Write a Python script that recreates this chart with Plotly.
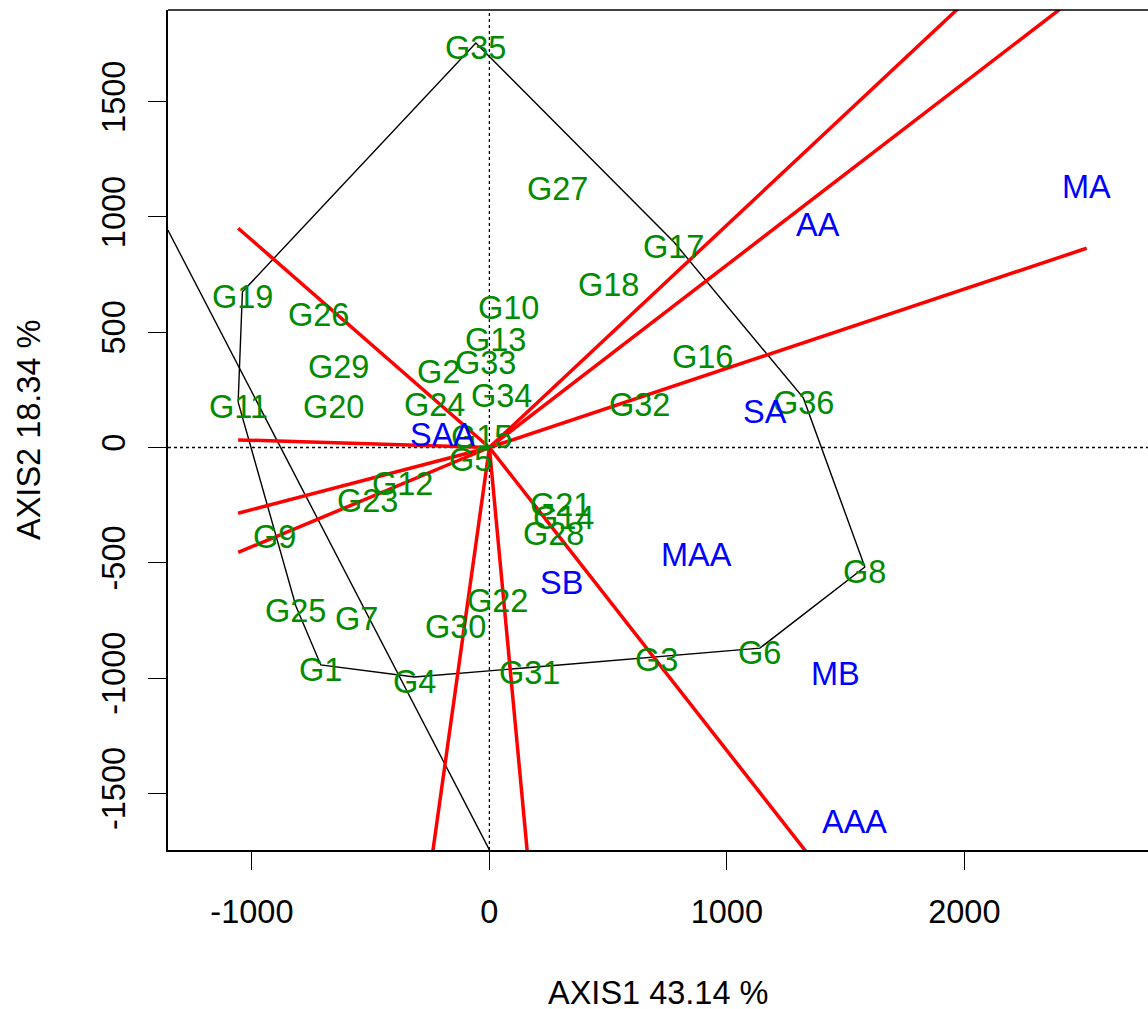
import plotly.graph_objects as go

# ---------------- data ----------------
genotypes = ["G1", "G2", "G3", "G4", "G5", "G6", "G7", "G8", "G9", "G10",
             "G11", "G12", "G13", "G14", "G15", "G16", "G17", "G18", "G19", "G20",
             "G21", "G22", "G23", "G24", "G25", "G26", "G27", "G28", "G29", "G30",
             "G31", "G32", "G33", "G34", "G35", "G36"]
gen_x = [-710, -213, 705, -315, -78, 1139, -558, 1581, -905, 82,
         -1058, -365, 27, 314, -32, 899, 777, 503, -1040, -655,
         301, 35, -512, -230, -815, -719, 288, 271, -634, -142,
         170, 634, -15, 52, -57, 1322]
gen_y = [-943, 349, -900, -995, -33, -870, -722, -518, -366, 627,
         197, -136, 488, -284, 67, 414, 891, 726, 675, 197,
         -228, -644, -210, 206, -687, 596, 1142, -353, 371, -757,
         -954, 206, 388, 243, 1754, 215]

environments = ["MA", "AA", "SA", "MAA", "MB", "AAA", "SB", "SAA"]
env_x = [2515, 1383, 1160, 874, 1459, 1539, 305, -196]
env_y = [1150, 987, 176, -445, -960, -1602, -566, 76]

# rays from the origin perpendicular to the polygon sides (end points)
ray_x = [2074, 2528, 2515, 1522, 182, -272, -1058, -1058, -1058, -1058]
ray_y = [2000, 2000, 864, -2000, -2000, -2000, -455, -285, 33, 951]

# extra black line
extra_x = [-1354, 0]
extra_y = [943, -1745]

x_ticks = [-1000, 0, 1000, 2000]
x_tick_labels = ["-1000", "0", "1000", "2000"]
y_ticks = [-1500, -1000, -500, 0, 500, 1000, 1500]
y_tick_labels = ["-1500", "-1000", "-500", "0", "500", "1000", "1500"]
x_title = "AXIS1 43.14 %"
y_title = "AXIS2 18.34 %"

x_range = [-1353.4, 2773.4]
y_range = [-1745.4, 1897.2]

FONT = "Liberation Sans, Arial, Helvetica, sans-serif"
FS = 32.5
GREEN = "#008B00"
BLUE = "#0000FF"


def convex_hull(xs, ys):
    pts = sorted(set(zip(xs, ys)))

    def cross(o, a, b):
        return (a[0] - o[0]) * (b[1] - o[1]) - (a[1] - o[1]) * (b[0] - o[0])

    lower, upper = [], []
    for p in pts:
        while len(lower) >= 2 and cross(lower[-2], lower[-1], p) <= 0:
            lower.pop()
        lower.append(p)
    for p in reversed(pts):
        while len(upper) >= 2 and cross(upper[-2], upper[-1], p) <= 0:
            upper.pop()
        upper.append(p)
    return lower[:-1] + upper[:-1]


hull = convex_hull(gen_x, gen_y)
hull_x = [p[0] for p in hull] + [hull[0][0]]
hull_y = [p[1] for p in hull] + [hull[0][1]]

fig = go.Figure()

# dotted zero lines
fig.add_trace(go.Scatter(x=[x_range[0], x_range[1]], y=[0, 0], mode="lines",
                         line=dict(color="black", width=1.3, dash="dot"),
                         hoverinfo="skip", showlegend=False))
fig.add_trace(go.Scatter(x=[0, 0], y=[y_range[0], y_range[1]], mode="lines",
                         line=dict(color="black", width=1.3, dash="dot"),
                         hoverinfo="skip", showlegend=False))

# polygon
fig.add_trace(go.Scatter(x=hull_x, y=hull_y, mode="lines",
                         line=dict(color="black", width=1.4),
                         hoverinfo="skip", showlegend=False))
fig.add_trace(go.Scatter(x=extra_x, y=extra_y, mode="lines",
                         line=dict(color="black", width=1.4),
                         hoverinfo="skip", showlegend=False))

# red rays
rx, ry = [], []
for ex, ey in zip(ray_x, ray_y):
    rx += [0, ex, None]
    ry += [0, ey, None]
fig.add_trace(go.Scatter(x=rx, y=ry, mode="lines",
                         line=dict(color="#FF0000", width=3.5),
                         hoverinfo="skip", showlegend=False))

annotations = []
for name, gx, gy in zip(genotypes, gen_x, gen_y):
    annotations.append(dict(x=gx, y=gy, xref="x", yref="y", text=name,
                            showarrow=False, xanchor="center", yanchor="middle",
                            yshift=-5, font=dict(family=FONT, size=FS, color=GREEN)))
for name, ex, ey in zip(environments, env_x, env_y):
    annotations.append(dict(x=ex, y=ey, xref="x", yref="y", text=name,
                            showarrow=False, xanchor="center", yanchor="middle",
                            yshift=-5, font=dict(family=FONT, size=FS, color=BLUE)))

annotations.append(dict(x=0.5, y=0, xref="paper", yref="paper", text=x_title,
                        showarrow=False, xanchor="center", yanchor="middle",
                        yshift=-143, font=dict(family=FONT, size=FS, color="black")))
annotations.append(dict(x=0, y=0.5, xref="paper", yref="paper", text=y_title,
                        showarrow=False, xanchor="center", yanchor="middle",
                        xshift=-139, textangle=-90,
                        font=dict(family=FONT, size=FS, color="black")))

fig.update_layout(
    width=1148, height=1009,
    margin=dict(l=168, r=0, t=10, b=159, autoexpand=False),
    paper_bgcolor="white", plot_bgcolor="white",
    annotations=annotations,
    showlegend=False,
    shapes=[dict(type="line", xref="paper", yref="paper", x0=0, x1=1, y0=1, y1=1,
                 line=dict(color="black", width=1.5))],
)
fig.update_xaxes(range=x_range, tickvals=x_ticks, ticktext=x_tick_labels,
                 ticks="outside", ticklen=18,
                 tickwidth=1.3, tickcolor="black", showgrid=False, zeroline=False,
                 showline=True, linecolor="black", linewidth=1.5,
                 tickfont=dict(family=FONT, size=FS, color="black"),
                 ticklabelstandoff=14)
fig.update_yaxes(range=y_range, tickvals=y_ticks, ticktext=y_tick_labels,
                 ticks="outside", ticklen=18,
                 tickwidth=1.3, tickcolor="black", showgrid=False, zeroline=False,
                 showline=True, linecolor="black", linewidth=1.5, tickangle=-90,
                 tickfont=dict(family=FONT, size=FS, color="black"),
                 ticklabelstandoff=10)

fig.write_html("out.html", config={"displayModeBar": False},
               post_script="document.body.style.margin='0';document.body.style.overflow='hidden';")
